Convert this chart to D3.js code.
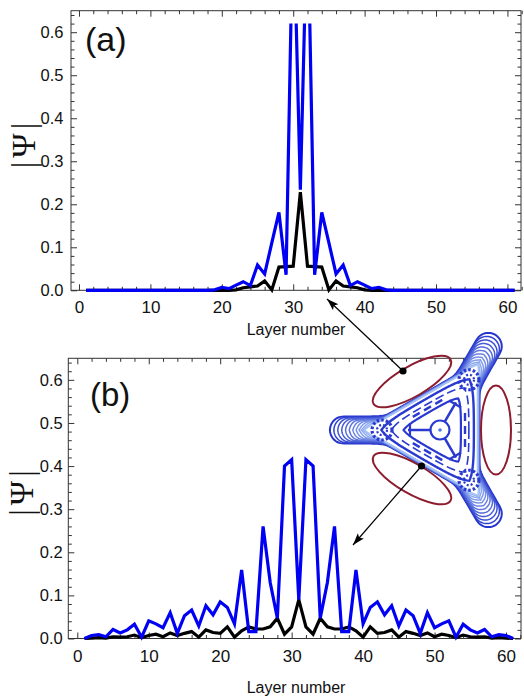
<!DOCTYPE html>
<meta charset="utf-8">
<style>
body { margin: 0; background: #fff; }
text { font-family: "Liberation Sans", Arial, sans-serif; }
</style>
<body>
<svg width="524" height="698"></svg>
<script src="https://cdn.jsdelivr.net/npm/d3@7/dist/d3.min.js"></script>
<script>
var svg = d3.select("svg");

// layer index 1..61
var layers = d3.range(1, 62);

// panel (a)
var blueA = [0,0,0,0,0,0,0,0,0,0, 0,0,0,0,0,0,0,0,
  0.001, 0.007, 0.004, 0.012, 0.02, 0.011, 0.059, 0.038, 0.11, 0.181, 0.036, 0.9,
  0.234,
  0.9, 0.036, 0.181, 0.11, 0.038, 0.059, 0.011, 0.02, 0.012, 0.004, 0.007, 0.001,
  0,0,0,0,0,0,0,0,0,0, 0,0,0,0,0,0,0,0];
var blackA = [0,0,0,0,0,0,0,0,0,0, 0,0,0,0,0,0,0,0,0,0, 0,
  0.001, 0.006, 0.008, 0.01, 0.022, 0.001, 0.054, 0.055, 0.056,
  0.228,
  0.056, 0.055, 0.054, 0.001, 0.022, 0.01, 0.008, 0.006, 0.001,
  0,0,0,0,0,0,0,0,0,0, 0,0,0,0,0,0,0,0,0,0, 0];

// panel (b)
var blueB = [0, 0.007, 0.009, 0.004, 0.021, 0.013, 0.02, 0.033, 0.003, 0.041,
  0.034, 0.025, 0.06, 0.012, 0.053, 0.066, 0.029, 0.076, 0.055, 0.085,
  0.072, 0.034, 0.159, 0.016, 0.016, 0.26, 0.13, 0.047, 0.40, 0.415,
  0.09,
  0.415, 0.40, 0.047, 0.13, 0.26, 0.016, 0.016, 0.159, 0.034, 0.072,
  0.085, 0.055, 0.076, 0.029, 0.066, 0.053, 0.012, 0.06, 0.025, 0.034,
  0.041, 0.003, 0.033, 0.02, 0.013, 0.021, 0.004, 0.009, 0.007, 0];
var blackB = [0, 0.001, 0.002, 0.001, 0.004, 0.003, 0.004, 0.008, 0.002, 0.007,
  0.01, 0.004, 0.013, 0.007, 0.012, 0.016, 0.003, 0.02, 0.014, 0.012,
  0.027, 0.003, 0.018, 0.027, 0.022, 0.022, 0.027, 0.047, 0.01, 0.027,
  0.09,
  0.027, 0.01, 0.047, 0.027, 0.022, 0.022, 0.027, 0.018, 0.003, 0.027,
  0.012, 0.014, 0.02, 0.003, 0.016, 0.012, 0.007, 0.013, 0.004, 0.01,
  0.007, 0.002, 0.008, 0.004, 0.003, 0.004, 0.001, 0.002, 0.001, 0];

// tick labels
var xTicks = [0, 10, 20, 30, 40, 50, 60];
var yTicks = [0, 0.1, 0.2, 0.3, 0.4, 0.5, 0.6];
var xMinor = d3.range(0, 63, 2).filter(function(v){ return v % 10; });
var yMinor = d3.range(0, 0.65, 0.02).filter(function(v){ return Math.round(v*100) % 10; });

var panels = [
  {id:"a", label:"(a)", blue:blueA, black:blackA, clipTop:0.62,
   left:71, right:521, top:10.7, bottom:290.3, xdom:[-1.12, 61.9],
   ypad:7.5, labX:85, labY:51, labSize:34, psiX:35, psiY:143.5, xlabY:334.8},
  {id:"b", label:"(b)", blue:blueB, black:blackB, clipTop:0.65,
   left:68.3, right:521, top:358.3, bottom:638.5, xdom:[-1.26, 62.1],
   ypad:5.5, labX:90, labY:406, labSize:33, psiX:33, psiY:491, xlabY:693.2}
];

panels.forEach(function(p){
  var x = d3.scaleLinear().domain(p.xdom).range([p.left, p.right]);
  var y = d3.scaleLinear().domain([0, 0.65]).range([p.bottom, p.top]);
  var w = p.right - p.left, h = p.bottom - p.top;
  var g = svg.append("g");

  // frame
  g.append("rect").attr("x", p.left).attr("y", p.top).attr("width", w).attr("height", h)
    .attr("fill", "none").attr("stroke", "#333").attr("stroke-width", 1);

  function styleAxis(sel, size){
    sel.select(".domain").remove();
    sel.selectAll("line").attr("stroke", "#333");
    sel.selectAll("text").attr("font-size", size).attr("fill", "#111")
      .style("font-family", '"Liberation Sans", Arial, sans-serif');
  }

  // bottom
  g.append("g").attr("transform", "translate(0," + p.bottom + ")")
    .call(d3.axisBottom(x).tickValues(xTicks).tickSize(-6).tickPadding(11).tickFormat(d3.format("d")))
    .call(styleAxis, 17);
  g.append("g").attr("transform", "translate(0," + p.bottom + ")")
    .call(d3.axisBottom(x).tickValues(xMinor).tickSize(-3.5).tickFormat(""))
    .call(styleAxis, 17);
  // top
  g.append("g").attr("transform", "translate(0," + p.top + ")")
    .call(d3.axisTop(x).tickValues(xTicks).tickSize(-6).tickFormat(""))
    .call(styleAxis, 17);
  g.append("g").attr("transform", "translate(0," + p.top + ")")
    .call(d3.axisTop(x).tickValues(xMinor).tickSize(-3.5).tickFormat(""))
    .call(styleAxis, 17);
  // left
  g.append("g").attr("transform", "translate(" + p.left + ",0)")
    .call(d3.axisLeft(y).tickValues(yTicks).tickSize(-6).tickPadding(p.ypad).tickFormat(d3.format(".1f")))
    .call(styleAxis, 16.5);
  g.append("g").attr("transform", "translate(" + p.left + ",0)")
    .call(d3.axisLeft(y).tickValues(yMinor).tickSize(-3.5).tickFormat(""))
    .call(styleAxis, 16.5);
  // right
  g.append("g").attr("transform", "translate(" + p.right + ",0)")
    .call(d3.axisRight(y).tickValues(yTicks).tickSize(-6).tickFormat(""))
    .call(styleAxis, 16.5);
  g.append("g").attr("transform", "translate(" + p.right + ",0)")
    .call(d3.axisRight(y).tickValues(yMinor).tickSize(-3.5).tickFormat(""))
    .call(styleAxis, 16.5);

  // clip for the curves
  svg.append("clipPath").attr("id", "clip-" + p.id).append("rect")
    .attr("x", p.left).attr("y", y(p.clipTop))
    .attr("width", w).attr("height", p.bottom - y(p.clipTop) + 4);

  var line = d3.line()
    .x(function(d, i){ return x(layers[i]); })
    .y(function(d){ return y(d); });

  var lines = g.append("g").attr("clip-path", "url(#clip-" + p.id + ")");
  lines.append("path").datum(p.black).attr("d", line)
    .attr("fill", "none").attr("stroke", "#000").attr("stroke-width", 3.2);
  lines.append("path").datum(p.blue).attr("d", line)
    .attr("fill", "none").attr("stroke", "#0000f5").attr("stroke-width", 3.2);

  // panel letter
  g.append("text").attr("x", p.labX).attr("y", p.labY).attr("font-size", p.labSize)
    .attr("fill", "#111").text(p.label);

  // y label
  g.append("text")
    .attr("transform", "translate(" + p.psiX + "," + p.psiY + ") rotate(-90)")
    .attr("text-anchor", "middle")
    .attr("font-size", 33).attr("letter-spacing", 4)
    .style("font-family", '"Liberation Serif", "Times New Roman", serif')
    .attr("fill", "#111")
    .text("|\u03A8|");

  // x label
  g.append("text").attr("x", 296).attr("y", p.xlabY).attr("text-anchor", "middle")
    .attr("font-size", 16).attr("fill", "#111").text("Layer number");
});

/*
 * inset: trefoil contour picture with three ellipses
 */
var cx = 440, cy = 430;
var lobes = [Math.PI, -Math.PI/3, Math.PI/3];

function angleToLobe(th){
  var best = 10;
  lobes.forEach(function(l){
    var d = Math.abs(Math.atan2(Math.sin(th - l), Math.cos(th - l)));
    if (d < best) best = d;
  });
  return best;
}

// finger lobes on a triangle, blended with a smooth max
function trefoil(L, hw, a, k){
  var pts = [];
  var c = L - hw;
  for (var i = 0; i < 720; i++) {
    var th = i / 720 * 2 * Math.PI;
    var phi = angleToLobe(th);
    var rf = phi < Math.atan(hw / c)
      ? c * Math.cos(phi) + Math.sqrt(Math.max(0, hw*hw - c*c*Math.sin(phi)*Math.sin(phi)))
      : hw / Math.sin(phi);
    var rt = a / Math.cos(Math.PI/3 - phi);
    var r = Math.pow(Math.pow(rf, k) + Math.pow(rt, k), 1/k);
    pts.push([cx + r*Math.cos(th), cy + r*Math.sin(th)]);
  }
  return pts;
}

// rounded triangle (smooth min of triangle and circle)
function roundTri(a, R, k){
  var pts = [];
  for (var i = 0; i < 360; i++) {
    var th = i / 360 * 2 * Math.PI;
    var phi = angleToLobe(th);
    var rt = a / Math.cos(Math.PI/3 - phi);
    var r = Math.pow(Math.pow(rt, -k) + Math.pow(R, -k), -1/k);
    pts.push([cx + r*Math.cos(th), cy + r*Math.sin(th)]);
  }
  return pts;
}

var closedLine = d3.line().curve(d3.curveLinearClosed);
var inset = svg.append("g");
var shade = d3.interpolateRgb("#2636cc", "#a4c2f6");
var nCont = 12;
d3.range(nCont).forEach(function(i){
  var t = i / (nCont - 1);
  inset.append("path")
    .attr("d", closedLine(trefoil(110 - 44*t, 13.5 - 7.5*t, 39.5 - 2*t, 14)))
    .attr("fill", i === 0 ? "#fff" : "none")
    .attr("stroke", shade(t)).attr("stroke-width", i === 0 ? 2 : 1.5);
});

var core = "#2a39cf";
inset.append("path").attr("d", closedLine(roundTri(34, 64, 6)))
  .attr("fill", "none").attr("stroke", core).attr("stroke-width", 2.4);
inset.append("path").attr("d", closedLine(roundTri(29, 52, 6)))
  .attr("fill", "none").attr("stroke", core).attr("stroke-width", 1.6)
  .attr("stroke-dasharray", "9,4");
inset.append("path").attr("d", closedLine(roundTri(21, 40, 6)))
  .attr("fill", "none").attr("stroke", core).attr("stroke-width", 2.2);
lobes.forEach(function(l){
  var ux = Math.cos(l), uy = Math.sin(l);
  // spoke
  inset.append("line")
    .attr("x1", cx + 9*ux).attr("y1", cy + 9*uy)
    .attr("x2", cx + 32*ux).attr("y2", cy + 32*uy)
    .attr("stroke", core).attr("stroke-width", 2.5);
  // cross bar
  inset.append("line")
    .attr("x1", cx + 30*ux - 7*uy).attr("y1", cy + 30*uy + 7*ux)
    .attr("x2", cx + 30*ux + 7*uy).attr("y2", cy + 30*uy - 7*ux)
    .attr("stroke", core).attr("stroke-width", 2.2);
  // dotted ring at the lobe base
  inset.append("circle")
    .attr("cx", cx + 58*ux).attr("cy", cy + 58*uy).attr("r", 10)
    .attr("fill", "none").attr("stroke", core).attr("stroke-width", 3.2)
    .attr("stroke-dasharray", "2.6,2");
  inset.append("circle")
    .attr("cx", cx + 58*ux).attr("cy", cy + 58*uy).attr("r", 5)
    .attr("fill", "none").attr("stroke", core).attr("stroke-width", 2.2)
    .attr("stroke-dasharray", "2,2");
  // dashes along the sides
  var n = l + Math.PI/3, nx = Math.cos(n), ny = Math.sin(n);
  [-13, 0, 13].forEach(function(s){
    var mx = cx + 25*nx - s*ny, my = cy + 25*ny + s*nx;
    inset.append("line")
      .attr("x1", mx - 4*ny).attr("y1", my + 4*nx)
      .attr("x2", mx + 4*ny).attr("y2", my - 4*nx)
      .attr("stroke", core).attr("stroke-width", 2.4);
  });
});
inset.append("circle").attr("cx", cx).attr("cy", cy).attr("r", 9.5)
  .attr("fill", "#fff").attr("stroke", core).attr("stroke-width", 2.2);
inset.append("circle").attr("cx", cx).attr("cy", cy).attr("r", 1.8).attr("fill", "#5577ee");

// ellipses, lighter where they touch the trefoil
var defs = svg.append("defs");
var grad = defs.append("radialGradient").attr("id", "ellGrad")
  .attr("gradientUnits", "userSpaceOnUse")
  .attr("cx", cx).attr("cy", cy).attr("r", 60);
grad.append("stop").attr("offset", 0.68).attr("stop-color", "#efc3a2");
grad.append("stop").attr("offset", 0.79).attr("stop-color", "#8c1c2e");
grad.append("stop").attr("offset", 1).attr("stop-color", "#8c1c2e");

[0, -2*Math.PI/3, 2*Math.PI/3].forEach(function(ang){
  var ex = cx + 56*Math.cos(ang), ey = cy + 56*Math.sin(ang);
  inset.append("ellipse")
    .attr("cx", 0).attr("cy", 0).attr("rx", 15).attr("ry", 44.5)
    .attr("transform", "translate(" + ex + "," + ey + ") rotate(" + (ang*180/Math.PI) + ")")
    .attr("fill", "none").attr("stroke", "url(#ellGrad)").attr("stroke-width", 2);
});

// arrows
defs.append("marker").attr("id", "head")
  .attr("markerUnits", "userSpaceOnUse")
  .attr("markerWidth", 14).attr("markerHeight", 10)
  .attr("refX", 12).attr("refY", 4).attr("orient", "auto")
  .append("path").attr("d", "M0,0 L12,4 L0,8 L2.5,4 Z").attr("fill", "#000");

var arrows = [
  {from:[403, 371], to:[327, 299]},
  {from:[421.5, 466], to:[353, 545]}
];
arrows.forEach(function(a){
  svg.append("line")
    .attr("x1", a.from[0]).attr("y1", a.from[1])
    .attr("x2", a.to[0]).attr("y2", a.to[1])
    .attr("stroke", "#000").attr("stroke-width", 1.2)
    .attr("marker-end", "url(#head)");
  svg.append("circle").attr("cx", a.from[0]).attr("cy", a.from[1]).attr("r", 3.6).attr("fill", "#000");
});
</script>
</body>
